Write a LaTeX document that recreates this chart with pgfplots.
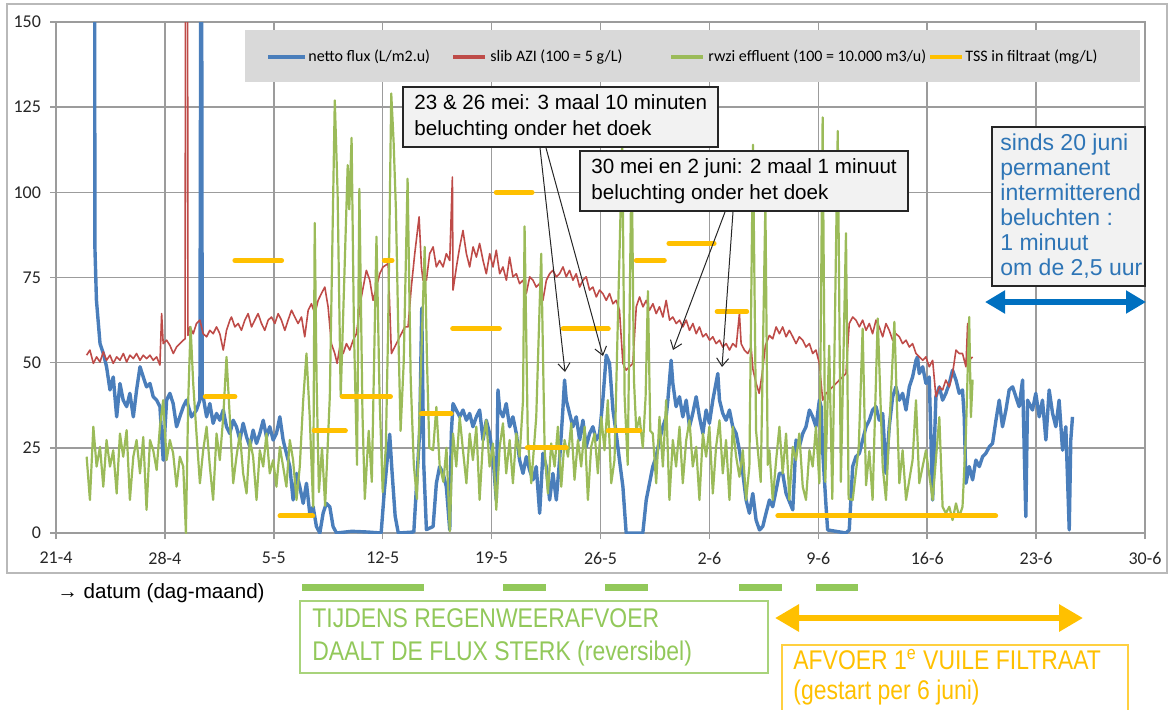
\documentclass[border=0pt]{standalone}
\usepackage{fontspec}
\setmainfont{Liberation Sans}
\newfontfamily\calibri{Carlito}
\newfontfamily\arialn{Liberation Sans}[FakeStretch=0.85]
\usepackage{pgfplots}
\pgfplotsset{compat=1.18}
\usetikzlibrary{arrows.meta}

\definecolor{fluxblue}{HTML}{4A7EBB}
\definecolor{slibred}{HTML}{BE4B48}
\definecolor{rwzigreen}{HTML}{9BBB59}
\definecolor{tssyellow}{HTML}{FFC000}
\definecolor{gridc}{HTML}{9C9C9C}
\definecolor{legbg}{HTML}{D9D9D9}
\definecolor{boxgray}{HTML}{F2F2F2}
\definecolor{notegreen}{HTML}{92C85A}
\definecolor{noteblue}{HTML}{2E75B6}
\definecolor{arrowblue}{HTML}{0070C0}

\begin{document}
\begin{tikzpicture}
% picture grid: 1 px of the reference = 0.5pt, y downwards
\begin{scope}[x=0.5pt,y=-0.5pt]
  \draw[gray!55, line width=0.6pt] (7,4) rectangle (1167,573);
\end{scope}

\begin{axis}[
    at={(28pt,-266.5pt)}, anchor=south west,
    scale only axis, width=544.5pt, height=255.5pt,
    xmin=0, xmax=70, ymin=0, ymax=150,
    xtick={0,7,...,70},
    xticklabels={21-4,28-4,5-5,12-5,19-5,26-5,2-6,9-6,16-6,23-6,30-6},
    ytick={0,25,...,150},
    xtick pos=bottom, ytick pos=left,
    grid=major,
    grid style={draw=gridc, line width=0.75pt},
    axis line style={draw=gridc, line width=0.75pt},
    tick style={draw=gridc, line width=0.75pt},
    tick align=outside, major tick length=3pt,
    ticklabel style={font=\calibri\fontsize{9}{10}\selectfont, text=black!85},
    /pgf/number format/assume math mode=true,
    xticklabel style={yshift=-3pt},
    yticklabel style={xshift=-1pt},
    unbounded coords=jump,
    every axis plot/.append style={line join=round},
]
% netto flux (L/m2.u)
\addplot[fluxblue, line width=1.7pt] coordinates {
(2.47,250) (2.50,84) (2.60,68.3) (2.83,55.6) (3.04,52.7) (3.25,48.8) (3.47,42.0) (3.68,45.8) (3.90,34.1) (4.11,43.9) (4.32,39.0) (4.54,37.1) (4.75,41.0) (4.97,34.1) (5.18,42.0) (5.40,48.8) (5.61,45.8) (5.82,42.9) (6.04,43.9) (6.25,40.0) (6.47,39.0) (6.68,37.1) (6.89,21.4) (7.11,39.0) (7.32,41.0) (7.53,38.0) (7.75,31.2) (7.96,34.1) (8.18,37.1) (8.39,39.0) (8.71,34.1) (9.03,36.1) (9.25,39.0) (9.34,250) (9.40,40.0) (9.46,40.0) (9.68,34.1) (9.89,38.0) (10.10,32.2) (10.32,35.1) (10.53,33.1) (10.75,36.1) (10.96,31.2) (11.17,29.2) (11.39,33.1) (11.60,31.2) (11.82,27.3) (12.03,32.2) (12.25,28.2) (12.46,25.3) (12.67,30.2) (12.89,26.3) (13.10,29.2) (13.32,33.1) (13.53,28.2) (13.74,31.2) (13.96,27.3) (14.17,29.2) (14.39,34.1) (14.60,27.3) (14.81,23.4) (15.03,19.5) (15.24,9.7) (15.46,17.5) (15.67,13.6) (15.89,8.7) (16.10,14.6) (16.31,5.8) (16.53,7.7) (16.74,1.9) (16.96,0) (17.17,5.8) (17.38,8.7) (17.60,7.7) (17.81,1.9) (18.03,0) (19.0,0.5) (20.0,0.3) (20.9,0) (21.1,12) (21.3,22) (21.45,29) (21.6,18) (21.8,5) (22.0,0) (23.0,0.3) (23.38,30) (23.51,66) (23.64,20) (23.81,1) (24.24,1.9) (24.45,14.6) (24.66,19.5) (24.88,17.5) (25.09,13.6) (25.31,0.9) (25.41,29.2) (25.52,38.0)
(25.73,36.1) (25.95,34.1) (26.16,36.1) (26.38,33.1) (26.59,35.1) (26.80,31.2) (27.02,34.1) (27.23,36.1) (27.45,27.3) (27.66,33.1) (27.87,29.2) (28.09,22.4) (28.30,9.7) (28.41,42.0) (28.52,36.1) (28.73,34.1) (28.94,38.0) (29.16,31.2) (29.37,34.1) (29.59,29.2) (29.80,21.4) (30.02,17.5) (30.23,22.4) (30.44,18.5) (30.66,15.6) (30.87,19.5) (31.09,5.8) (31.30,23.4) (31.51,19.5) (31.73,9.7) (31.94,17.5) (32.16,9.7) (32.37,21.4) (32.58,36.1) (32.69,44.9) (32.80,39.0) (33.01,35.1) (33.23,31.2) (33.44,34.1) (33.66,27.3) (33.87,33.1) (34.08,25.3) (34.30,29.2) (34.51,31.2) (34.73,27.3) (34.94,29.2) (35.15,39.0) (35.37,52.2) (35.58,49.8) (35.80,36.1) (36.01,29.2) (36.22,21.4) (36.44,13.6) (36.65,0) (37.72,0) (37.94,9.7) (38.15,14.6) (38.36,19.5) (38.58,22.4) (38.79,27.3) (39.01,31.2) (39.22,34.1) (39.33,39.0) (39.54,50.7) (39.65,43.9) (39.86,37.1) (40.08,40.0) (40.29,34.1) (40.51,39.0) (40.72,31.2) (40.93,35.1) (41.15,40.0) (41.36,34.1) (41.58,29.2) (41.79,36.1) (42.00,32.2) (42.22,39.0) (42.54,46.8) (42.65,39.0) (42.86,35.1) (43.07,33.1) (43.29,36.1) (43.50,31.2) (43.72,29.2) (43.93,24.3) (44.15,17.5) (44.36,9.7) (44.57,5.8) (44.79,11.6) (45.00,3.8) (45.22,0.9) (45.43,1.9) (45.64,5.8) (45.86,9.7) (46.07,7.7) (46.29,12.6) (46.50,17.5) (46.71,17.5)
(46.93,11.6) (47.36,6.8) (47.57,27.3) (47.78,25.3) (48.00,29.2) (48.21,31.2) (48.43,36.1) (48.64,34.1) (48.85,31.2) (49.07,39.0) (49.18,37.1) (49.28,24.3) (49.50,7.7) (49.60,0.9) (50.78,0) (50.99,0.9) (51.21,19.5) (51.42,22.4) (51.64,23.4) (51.85,27.3) (52.07,31.2) (52.28,33.1) (52.49,36.1) (52.71,37.1) (52.92,33.1) (53.14,35.1) (53.35,17.5) (53.56,31.2) (53.78,40.0) (53.99,42.9) (54.21,39.0) (54.42,41.0) (54.64,36.1) (54.85,42.9) (55.06,45.8) (55.28,50.7) (55.38,51.7) (55.49,46.8) (55.71,48.8) (55.92,43.9) (56.13,45.8) (56.35,9.7) (56.56,40.0) (56.78,42.9) (56.99,39.0) (57.20,41.0) (57.42,43.9) (57.63,47.8) (57.85,44.9) (58.06,41.0) (58.27,42.0) (58.38,34.1) (58.49,14.6) (58.70,19.5) (58.92,15.6) (59.13,21.4) (59.35,19.5) (59.56,22.4) (59.77,23.4) (59.99,25.3) (60.20,26.3) (60.42,33.1) (60.63,39.0) (60.84,31.2) (61.06,36.1) (61.27,42.0) (61.49,42.9) (61.70,40.0) (61.91,37.1) (62.13,44.9) (62.34,4.8) (62.45,39.0) (62.77,36.1) (62.98,41.0) (63.20,34.1) (63.41,39.0) (63.63,27.3) (63.84,42.0) (64.06,35.1) (64.27,31.2) (64.48,39.0) (64.70,24.3) (64.91,31.2) (65.13,0.9) (65.23,27.3) (65.34,34.1)
};
% slib AZI (100 = 5 g/L)
\addplot[slibred, line width=0.8pt] coordinates {
(1.97,52.2) (2.18,53.7) (2.40,49.8) (2.61,51.7) (2.83,50.2) (3.04,53.2) (3.25,50.7) (3.47,52.2) (3.68,49.8) (3.90,51.7) (4.11,50.7) (4.33,52.7) (4.54,50.2) (4.75,52.2) (4.97,51.2) (5.18,52.7) (5.40,50.7) (5.61,52.2) (5.82,51.2) (6.04,52.2) (6.25,50.7) (6.47,51.7) (6.68,49.3) (6.79,64.4) (6.89,55.6) (7.11,56.6) (7.32,55.1) (7.54,52.7) (7.75,54.6) (7.96,55.6) (8.18,56.6) (8.30,57) (8.35,300) (8.43,300) (8.48,58) (8.61,60.5) (8.82,58.5) (9.03,61.5) (9.25,62.5) (9.46,58.5) (9.68,57.6) (9.89,59.5) (10.10,58.5) (10.32,60.5) (10.53,58.5) (10.75,53.7) (10.96,59.5) (11.18,62.5) (11.28,63.4) (11.50,60.5) (11.71,61.5) (11.92,59.5) (12.14,62.5) (12.35,64.4) (12.57,60.5) (12.78,62.5) (12.99,64.4) (13.21,61.5) (13.42,59.5) (13.64,62.5) (13.85,63.4) (14.07,61.5) (14.28,64.4) (14.49,62.5) (14.71,59.5) (14.92,62.5) (15.14,65.4) (15.35,63.4) (15.56,61.5) (15.78,63.4) (15.99,57.6) (16.21,65.4) (16.42,67.3) (16.64,64.4) (16.85,68.3) (17.06,70.3) (17.28,72.2) (17.49,66.4) (17.70,55.6) (17.92,52.7) (18.07,49.8) (18.24,54.6) (18.46,52.7) (18.67,55.6) (18.88,53.7) (19.10,56.6) (19.31,58.5) (19.63,69.3) (19.95,77.1) (20.17,74.2) (20.38,68.3) (20.60,72.2) (20.81,76.1) (21.02,78.1) (21.35,79.1) (21.56,52.7) (21.77,54.6) (21.99,56.6) (22.20,58.5) (22.42,60.5) (22.63,60.5) (22.84,72.2) (23.06,82.0) (23.34,92.8) (23.49,78.1) (23.59,74.2) (23.81,74.2) (24.02,82.0) (24.24,84.0) (24.45,78.1) (24.66,80.0) (24.88,78.1) (25.09,82.0) (25.31,80.0) (25.48,104.5) (25.52,71.3) (25.74,78.1) (25.95,84.0) (26.16,88.8) (26.38,82.0) (26.59,78.1) (26.81,84.0) (27.02,81.0) (27.23,85.0) (27.45,80.0) (27.66,76.1) (27.88,82.0) (28.09,78.1) (28.30,83.0) (28.52,76.1) (28.73,78.1) (28.95,74.2) (29.16,81.0) (29.37,75.2) (29.59,76.1) (29.80,73.2) (30.02,74.2) (30.23,70.3) (30.45,75.2) (30.66,74.2) (30.87,72.2) (31.09,73.2) (31.30,68.3) (31.52,74.2) (31.73,76.1) (31.94,77.1) (32.16,75.2) (32.37,76.1) (32.59,78.1) (32.80,75.2) (33.01,77.1) (33.23,74.2) (33.44,76.1) (33.66,72.2) (33.87,74.2) (34.08,75.2) (34.30,71.3) (34.51,72.2) (34.73,69.3) (34.94,71.3) (35.15,70.3) (35.37,68.3) (35.58,70.3) (35.80,67.3) (36.01,68.3) (36.22,65.4) (36.44,49.8) (36.65,47.8) (36.87,48.8) (37.08,49.8) (37.30,66.4) (37.51,69.3) (37.73,66.4) (37.94,68.3) (38.15,65.4) (38.37,67.3) (38.58,64.4) (38.79,66.4) (39.01,63.4) (39.22,68.3) (39.44,62.5) (39.65,63.4) (39.87,61.5) (40.08,62.5) (40.29,60.5) (40.51,62.5) (40.72,59.5) (40.94,61.5) (41.15,58.5) (41.36,60.5) (41.58,57.6) (41.79,58.5) (42.01,56.6) (42.22,57.6) (42.43,55.6) (42.65,56.6) (42.86,54.6) (43.08,55.6) (43.29,53.7) (43.50,55.6) (43.72,54.6) (43.93,64.4) (44.04,55.6) (44.25,53.7) (44.47,52.7) (44.68,54.6) (44.80,48) (45.00,44) (45.20,41) (45.40,47) (45.60,55) (45.85,58) (46.07,57) (46.29,60.5) (46.50,58.5) (46.71,60.5) (46.93,57.6) (47.14,59.5) (47.36,57.6) (47.57,55.6) (47.78,57.6) (48.00,56.6) (48.21,54.6) (48.43,55.6) (48.64,52.7) (48.85,53.7) (49.07,49.8) (49.28,39.0) (49.50,41.0) (49.93,42.9) (50.35,44.9) (50.78,46.8) (50.99,61.5) (51.21,63.4) (51.42,62.5) (51.64,60.5) (51.85,62.5) (52.07,59.5) (52.28,61.5) (52.49,58.5) (52.71,62.5) (52.92,60.5) (53.14,57.6) (53.35,61.5) (53.56,59.5) (53.78,56.6) (53.99,58.5) (54.21,57.6) (54.42,55.6) (54.64,56.6) (54.85,54.6) (55.06,55.6) (55.28,52.7) (55.49,51.7) (55.71,50.7) (55.92,51.7) (56.13,48.8) (56.35,50.7) (56.56,40.0) (56.78,42.9) (56.99,42.0) (57.20,44.9) (57.42,42.9) (57.63,46.8) (57.85,53.7) (58.06,52.7) (58.27,52.7) (58.49,48.8) (58.60,61.5) (58.70,50.7) (58.92,51.7)
};
% rwzi effluent (100 = 10.000 m3/u)
\addplot[rwzigreen, line width=1.1pt] coordinates {
(1.97,22.4) (2.18,9.7) (2.40,31.2) (2.61,19.5) (2.83,25.3) (3.04,13.6) (3.25,27.3) (3.47,19.5) (3.68,24.3) (3.90,11.6) (4.11,29.2) (4.32,22.4) (4.54,30.2) (4.75,9.7) (4.97,22.4) (5.18,27.3) (5.40,17.5) (5.61,28.2) (5.82,6.8) (6.04,27.3) (6.25,24.3) (6.47,18.5) (6.68,31.2) (6.89,39.0) (7.11,21.4) (7.32,27.3) (7.53,23.4) (7.75,13.6) (7.96,22.4) (8.18,19.5) (8.35,0) (8.50,39.0) (8.65,60.5) (8.82,43.9) (9.03,29.2) (9.25,14.6) (9.46,24.3) (9.68,31.2) (9.89,19.5) (10.10,9.7) (10.32,29.2) (10.53,21.4) (10.75,34.1) (10.96,51.7) (11.17,34.1) (11.39,14.6) (11.60,22.4) (11.82,29.2) (12.03,17.5) (12.25,11.6) (12.46,27.3) (12.67,22.4) (12.89,9.7) (13.10,24.3) (13.32,19.5) (13.53,29.2) (13.74,17.5) (13.96,21.4) (14.17,13.6) (14.39,25.3) (14.60,19.5) (14.81,13.6) (15.03,27.3) (15.24,21.4) (15.46,9.7) (15.67,19.5) (15.89,39.0) (16.10,52.7) (16.31,34.1) (16.53,7.7) (16.63,91) (16.75,45) (16.9,12) (17.1,25) (17.3,8) (17.6,40) (17.92,127) (18.1,100) (18.3,40) (18.5,70) (18.75,108) (18.85,95) (19.0,116) (19.15,60) (19.35,20) (19.5,101) (19.7,35) (19.85,10) (20.1,30) (20.3,15) (20.6,87) (20.8,40) (21.0,12) (21.2,25) (21.35,60) (21.55,129) (21.7,115) (21.85,95) (22.0,60) (22.15,30) (22.35,50) (22.6,104) (22.8,45) (23.0,20) (23.2,10) (23.4,40) (23.7,84) (23.85,50) (24.0,25) (24.24,24.3) (24.45,37) (24.66,20) (24.9,15) (25.1,25) (25.31,0.5) (25.52,29.2)
(25.73,19.5) (25.95,34.1) (26.16,24.3) (26.38,14.6) (26.59,29.2) (26.80,21.4) (27.02,31.2) (27.23,9.7) (27.45,27.3) (27.66,33.1) (27.87,19.5) (28.09,26.3) (28.30,6.8) (28.52,25.3) (28.73,32.2) (28.94,17.5) (29.16,27.3) (29.37,14.6) (29.59,29.2) (29.80,22.4) (30.02,39.0) (30.12,90) (30.33,27.3) (30.55,14.6) (30.87,34.1) (31.19,82) (31.41,24.3) (31.62,11.6) (31.83,26.3) (32.05,19.5) (32.26,31.2) (32.48,13.6) (32.69,27.3) (32.91,22.4) (33.12,32.2) (33.33,15.6) (33.55,27.3) (33.76,19.5) (33.98,31.2) (34.19,9.7) (34.40,25.3) (34.62,29.2) (34.83,17.5) (35.05,34.1) (35.26,24.3) (35.47,39.0) (35.69,14.6) (35.90,21.4) (36.05,50) (36.4,115) (36.55,40) (36.75,20) (37.0,112) (37.15,45) (37.3,30) (37.51,34) (37.72,25) (37.9,40) (38.05,71) (38.2,30) (38.36,29.2) (38.58,14.6) (38.79,34.1) (39.01,19.5) (39.22,39.0) (39.43,9.7) (39.65,27.3) (39.86,19.5) (40.08,31.2) (40.29,14.6) (40.51,27.3) (40.72,33.1) (40.93,19.5) (41.15,25.3) (41.36,9.7) (41.58,29.2) (41.79,22.4) (42.00,31.2) (42.22,11.6) (42.43,25.3) (42.65,33.1) (42.86,17.5) (43.07,27.3) (43.29,9.7) (43.50,31.2) (43.72,22.4) (43.93,16.5) (44.15,24.3) (44.36,9.7) (44.57,19.5) (44.8,114) (45.0,30) (45.3,15) (45.6,97) (45.75,20) (45.86,24.3) (46.07,9.7) (46.29,21.4) (46.50,31.2) (46.71,17.5) (46.93,29.2) (47.14,9.7) (47.36,25.3) (47.57,21.4) (47.78,29.2) (48.00,13.6) (48.21,9.7) (48.43,24.3) (48.64,19.5) (48.85,31.2) (49.07,14.6) (49.28,122) (49.45,15) (49.7,55) (49.9,10) (50.25,118) (50.45,15) (50.78,88) (50.95,10) (51.21,9.7) (51.6,25) (51.85,60) (52.07,14) (52.28,24) (52.49,9.7) (52.82,63) (53.14,19.5) (53.35,9.7) (53.89,62) (54.21,14.6) (54.42,24.3) (54.64,9.7) (55.06,21.4) (55.28,39) (55.49,14.6) (55.92,24.3) (56.35,9.7) (56.78,34) (56.99,7.7) (57.20,5.8) (57.42,7.7) (57.63,3.8) (57.85,8.7) (58.06,4.8) (58.27,7.7) (58.49,29.2) (58.70,63.4) (58.81,34) (58.92,45)
};
% TSS in filtraat (mg/L)
\addplot[tssyellow, line width=2.5pt, line cap=round] coordinates {
(9.6,40) (11.5,40) (11.5,nan)
(11.5,80) (14.5,80) (14.5,nan)
(14.4,5) (16.5,5) (16.5,nan)
(16.6,30) (18.6,30) (18.6,nan)
(18.4,40) (21.5,40) (21.5,nan)
(21.1,80) (21.6,80) (21.6,nan)
(23.5,35) (25.4,35) (25.4,nan)
(25.5,60) (28.5,60) (28.5,nan)
(28.3,100) (30.6,100) (30.6,nan)
(30.3,25) (32.8,25) (32.8,nan)
(32.6,60) (35.5,60) (35.5,nan)
(35.5,30) (37.5,30) (37.5,nan)
(37.3,80) (39.1,80) (39.1,nan)
(39.4,85) (42.3,85) (42.3,nan)
(42.5,65) (44.4,65) (44.4,nan)
(46.4,5) (60.4,5)
};
\end{axis}

\begin{scope}[x=0.5pt,y=-0.5pt]
  % legend
  \fill[legbg] (245,30) rectangle (1140,82);
  \begin{scope}[every node/.style={anchor=west, inner sep=0pt, font=\calibri\fontsize{8}{9}\selectfont}]
    \draw[fluxblue, line width=1.6pt] (268,57) -- (305,57);
    \node at (308,57) {netto flux (L/m2.u)};
    \draw[slibred, line width=1.6pt] (453,57) -- (485,57);
    \node at (490,57) {slib AZI (100 = 5 g/L)};
    \draw[rwzigreen, line width=1.6pt] (671,57) -- (703,57);
    \node at (708,57) {rwzi effluent (100 = 10.000 m3/u)};
    \draw[tssyellow, line width=1.6pt] (930,57) -- (962,57);
    \node at (965,57) {TSS in filtraat (mg/L)};
  \end{scope}

  % callouts
  \filldraw[fill=boxgray, draw=black!85, line width=0.6pt] (403,87) rectangle (718,147);
  \node[anchor=west, align=left, inner sep=0pt, font=\fontsize{10.3}{13}\selectfont] at (414,117)
    {23 \& 26 mei: 3 maal 10 minuten\\beluchting onder het doek};
  \filldraw[fill=boxgray, draw=black!85, line width=0.6pt] (580,151) rectangle (908,211);
  \node[anchor=west, align=left, inner sep=0pt, font=\fontsize{10.3}{13}\selectfont] at (591,181)
    {30 mei en 2 juni: 2 maal 1 minuut\\beluchting onder het doek};
  \begin{scope}[black!85, line width=0.5pt, -{Straight Barb[length=4pt,width=6pt]}]
    \draw (540,148) -- (565,372);
    \draw (546,148) -- (603,356);
    \draw (725,212) -- (673,350);
    \draw (733,212) -- (722,367);
  \end{scope}

  \filldraw[fill=boxgray, draw=black!85, line width=0.6pt] (992,127) rectangle (1145,286);
  \node[anchor=west, align=left, inner sep=0pt, text=noteblue, font=\fontsize{11.5}{12.5}\selectfont] at (1000,206)
    {sinds 20 juni\\permanent\\intermitterend\\beluchten :\\1 minuut\\om de 2,5 uur};
  \draw[arrowblue, line width=3pt, {Triangle[length=10pt,width=11pt]}-{Triangle[length=10pt,width=11pt]}] (985,302) -- (1146,302);

  % below the chart
  \node[anchor=west, inner sep=0pt, font=\fontsize{10.3}{12}\selectfont] at (57,593) {→ datum (dag-maand)};
  \begin{scope}[notegreen, line width=3.5pt]
    \draw (302,587) -- (424,587);
    \draw (503,587) -- (546,587);
    \draw (605,587) -- (648,587);
    \draw (739,587) -- (782,587);
    \draw (816,587) -- (858,587);
  \end{scope}
  \draw[notegreen!80, line width=0.6pt] (300,601) rectangle (768,673);
  \node[anchor=west, align=left, inner sep=0pt, text=notegreen, font=\arialn\fontsize{13.5}{16.5}\selectfont] at (312,637)
    {TIJDENS REGENWEERAFVOER\\DAALT DE FLUX STERK (reversibel)};
  \draw[tssyellow, line width=3pt, {Triangle[length=12pt,width=13pt]}-{Triangle[length=12pt,width=13pt]}] (775,618) -- (1083,618);
  \draw[tssyellow!75, line width=0.6pt] (782,712) -- (782,645) -- (1128,645) -- (1128,712);
  \node[anchor=west, align=left, inner sep=0pt, text=tssyellow, font=\arialn\fontsize{13.5}{15}\selectfont] at (793,677)
    {AFVOER 1\textsuperscript{e} VUILE FILTRAAT\\(gestart per 6 juni)};

  \pgfresetboundingbox
  \path[use as bounding box] (0,0) rectangle (1173,709);
\end{scope}
\end{tikzpicture}
\end{document}
